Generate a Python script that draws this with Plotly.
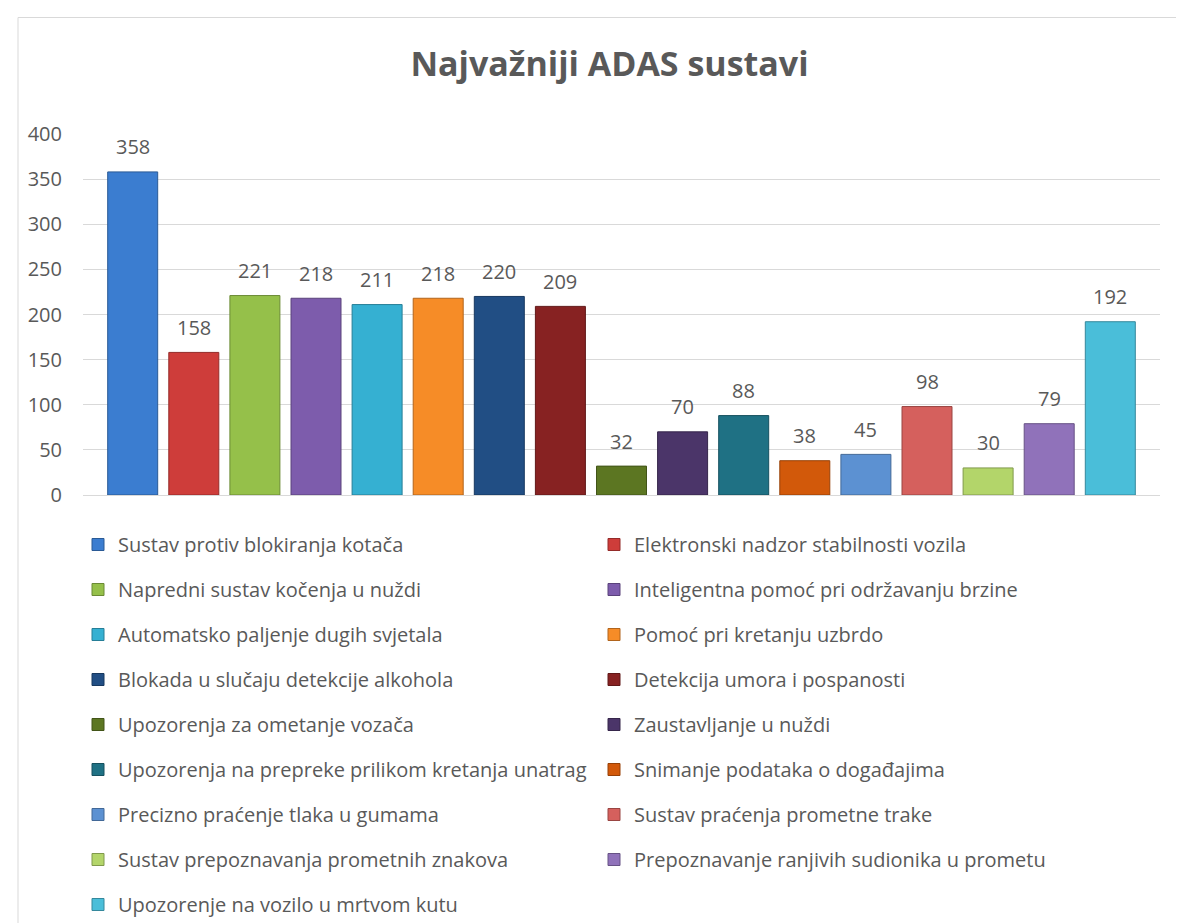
import plotly.graph_objects as go

# ---------------- data ----------------
categories = [
    "Sustav protiv blokiranja kotača",
    "Elektronski nadzor stabilnosti vozila",
    "Napredni sustav kočenja u nuždi",
    "Inteligentna pomoć pri održavanju brzine",
    "Automatsko paljenje dugih svjetala",
    "Pomoć pri kretanju uzbrdo",
    "Blokada u slučaju detekcije alkohola",
    "Detekcija umora i pospanosti",
    "Upozorenja za ometanje vozača",
    "Zaustavljanje u nuždi",
    "Upozorenja na prepreke prilikom kretanja unatrag",
    "Snimanje podataka o događajima",
    "Precizno praćenje tlaka u gumama",
    "Sustav praćenja prometne trake",
    "Sustav prepoznavanja prometnih znakova",
    "Prepoznavanje ranjivih sudionika u prometu",
    "Upozorenje na vozilo u mrtvom kutu",
]
values = [358, 158, 221, 218, 211, 218, 220, 209, 32, 70, 88, 38, 45, 98, 30, 79, 192]
colors = [
    "#3B7DD0", "#CE3D3A", "#95C04A", "#7D5CAC", "#35B0D2", "#F68C27",
    "#214E84", "#872222", "#5C7622", "#4B3569", "#1F7184", "#D2590A",
    "#5C91D2", "#D5605D", "#B3D56A", "#9072BA", "#4ABED9",
]
y_ticks = [0, 50, 100, 150, 200, 250, 300, 350, 400]
title_text = "Najvažniji ADAS sustavi"

# ---------------- layout geometry (pixels) ----------------
W, H = 1184, 923
PL, PR, PT, PB = 75, 1152, 126, 487   # plot area edges
PW, PH = PR - PL, PB - PT


def px_x(px):
    return (px - PL) / PW


def px_y(py):
    return (PB - py) / PH


def darker(hexc, f=0.72):
    r, g, b = int(hexc[1:3], 16), int(hexc[3:5], 16), int(hexc[5:7], 16)
    return "rgb(%d,%d,%d)" % (r * f, g * f, b * f)


FONT = "Open Sans"
TXT = "#595959"
FS = 20

fig = go.Figure()
for i, (cat, val, col) in enumerate(zip(categories, values, colors)):
    fig.add_trace(go.Bar(
        x=[cat], y=[val], name=cat,
        marker=dict(color=col, line=dict(color=darker(col), width=1)),
        legend="legend" if i % 2 == 0 else "legend2",
        legendgroup=str(i),
        hoverinfo="name+y",
    ))
    fig.add_annotation(
        x=cat, y=val, text=str(val), showarrow=False,
        yshift=25, yanchor="middle", xanchor="center",
        font=dict(family=FONT, size=FS, color=TXT),
    )

pitch = 61.1
extra = (PW / pitch - len(categories)) / 2

legend_common = dict(
    orientation="v", xanchor="left", yanchor="top",
    bgcolor="rgba(0,0,0,0)", borderwidth=0,
    font=dict(family=FONT, size=FS, color=TXT),
    tracegroupgap=16, traceorder="grouped",
    itemclick=False, itemdoubleclick=False,
)

fig.update_layout(
    width=W, height=H,
    margin=dict(l=PL, r=W - PR, t=PT, b=H - PB, autoexpand=False),
    paper_bgcolor="white", plot_bgcolor="white",
    barmode="relative", bargap=1 - 50 / pitch,
    showlegend=True,
    title=dict(
        text=title_text, x=601.5 / W, xanchor="center",
        y=1 - 56 / H, yanchor="middle", yref="container",
        font=dict(family=FONT, size=34, color=TXT, weight="bold"),
    ),
    xaxis=dict(
        type="category", categoryorder="array", categoryarray=categories,
        range=[-0.5 - extra, len(categories) - 0.5 + extra],
        showticklabels=False, showgrid=False, zeroline=False, showline=False,
        ticks="", fixedrange=True,
    ),
    yaxis=dict(
        range=[0, 400], tickvals=y_ticks, ticktext=[str(v) for v in y_ticks],
        showgrid=True, gridcolor="#D9D9D9", gridwidth=1,
        zeroline=True, zerolinecolor="#D9D9D9", zerolinewidth=1,
        showline=False, ticks="", ticklabelstandoff=20,
        tickfont=dict(family=FONT, size=FS, color=TXT), fixedrange=True,
    ),
    legend=dict(x=px_x(70), y=px_y(517), **legend_common),
    legend2=dict(x=px_x(586), y=px_y(517), **legend_common),
    shapes=[dict(
        type="rect", xref="paper", yref="paper",
        x0=px_x(10), x1=px_x(1182), y0=px_y(960), y1=px_y(9.5),
        line=dict(color="#D9D9D9", width=1), fillcolor="rgba(0,0,0,0)",
        layer="below",
    )],
)

fig.write_html("out.html")
